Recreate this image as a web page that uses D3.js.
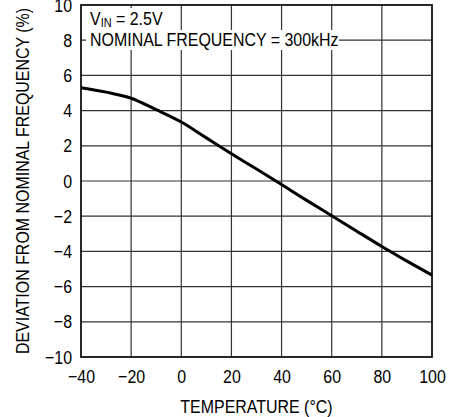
<!DOCTYPE html>
<html>
<head>
<meta charset="utf-8">
<script src="https://cdn.jsdelivr.net/npm/d3@7"></script>
<style>
  body { margin: 0; background: #fff; }
  text { font-family: "Liberation Sans", Arial, sans-serif; fill: #000; }
</style>
</head>
<body>
<div id="chart"></div>
<script>
// temperature (°C) vs deviation (%)
let temps = [-40, -30, -20, -10, 0, 10, 20, 30, 40, 50, 60, 70, 80, 90, 100];
let deviation = [5.3, 5.05, 4.7, 4.05, 3.35, 2.45, 1.55, 0.68, -0.2, -1.1, -1.97, -2.85, -3.72, -4.55, -5.35];

let xTicks = [-40, -20, 0, 20, 40, 60, 80, 100];
let yTicks = [-10, -8, -6, -4, -2, 0, 2, 4, 6, 8, 10];

let width = 461;
let height = 417;
let plotL = 81, plotR = 432, plotT = 5, plotB = 357;
let squeeze = 0.84; // narrow helvetica look

// squeeze text horizontally around its own x
function narrow(sel) {
    sel.each(function() {
        let t = d3.select(this);
        let tx = +t.attr("x") || 0;
        t.attr("transform", `translate(${tx},0) scale(${squeeze},1) translate(${-tx},0)`);
    });
}

let svg = d3.select("#chart")
    .append("svg")
    .attr("width", width)
    .attr("height", height);

let x = d3.scaleLinear().domain([-40, 100]).range([plotL, plotR]);
let y = d3.scaleLinear().domain([-10, 10]).range([plotB, plotT]);

// grid
svg.append("g")
    .selectAll("line")
    .data(xTicks.slice(1, -1))
    .enter().append("line")
    .attr("x1", d => x(d)).attr("x2", d => x(d))
    .attr("y1", plotT).attr("y2", plotB)
    .attr("stroke", "#333").attr("stroke-width", 1.2);

svg.append("g")
    .selectAll("line")
    .data(yTicks.slice(1, -1))
    .enter().append("line")
    .attr("x1", plotL).attr("x2", plotR)
    .attr("y1", d => y(d)).attr("y2", d => y(d))
    .attr("stroke", "#333").attr("stroke-width", 1.2);

// annotation with white background
let note = svg.append("g");
note.append("rect").attr("x", 86).attr("y", 8).attr("width", 78).attr("height", 22).attr("fill", "#fff");
note.append("rect").attr("x", 86).attr("y", 30).attr("width", 253).attr("height", 20).attr("fill", "#fff");

let vin = note.append("text").attr("x", 90).attr("y", 25).style("font-size", "19px");
vin.append("tspan").text("V");
vin.append("tspan").attr("dy", 2.5).style("font-size", "13px").text("IN");
vin.append("tspan").attr("dy", -2.5).text(" = 2.5V");

note.append("text").attr("x", 90).attr("y", 46).style("font-size", "19px")
    .text("NOMINAL FREQUENCY = 300kHz");
narrow(note.selectAll("text"));

// frame
svg.append("rect")
    .attr("x", plotL).attr("y", plotT)
    .attr("width", plotR - plotL).attr("height", plotB - plotT)
    .attr("fill", "none").attr("stroke", "#111").attr("stroke-width", 1.8);

// curve
let line = d3.line()
    .x((d, i) => x(temps[i]))
    .y(d => y(d))
    .curve(d3.curveMonotoneX);

svg.append("path")
    .datum(deviation)
    .attr("fill", "none")
    .attr("stroke", "#000")
    .attr("stroke-width", 3)
    .attr("d", line);

// axes
let fmt = d => d < 0 ? "\u2212" + Math.abs(d) : String(d);

let xAxis = d3.axisBottom(x).tickValues(xTicks).tickSize(0).tickPadding(13).tickFormat(fmt);
let gx = svg.append("g").attr("transform", `translate(0, ${plotB})`).call(xAxis);
gx.select(".domain").remove();
gx.selectAll("text").style("font-size", "19px").attr("fill", "#000").call(narrow);

let yAxis = d3.axisLeft(y).tickValues(yTicks).tickSize(0).tickPadding(9).tickFormat(fmt);
let gy = svg.append("g").attr("transform", `translate(${plotL}, 0)`).call(yAxis);
gy.select(".domain").remove();
gy.selectAll("text").style("font-size", "19px").attr("fill", "#000").call(narrow);
gx.attr("font-family", null);
gy.attr("font-family", null);

// titles
let xTitle = svg.append("text")
    .attr("x", (plotL + plotR) / 2)
    .attr("y", 413)
    .style("text-anchor", "middle")
    .style("font-size", "19px")
    .text("TEMPERATURE (\u00B0C)");
narrow(xTitle);

svg.append("text")
    .attr("transform", `translate(29, ${(plotT + plotB) / 2}) rotate(-90) scale(${squeeze},1)`)
    .style("text-anchor", "middle")
    .style("font-size", "19px")
    .text("DEVIATION FROM NOMINAL FREQUENCY (%)");
</script>
</body>
</html>
